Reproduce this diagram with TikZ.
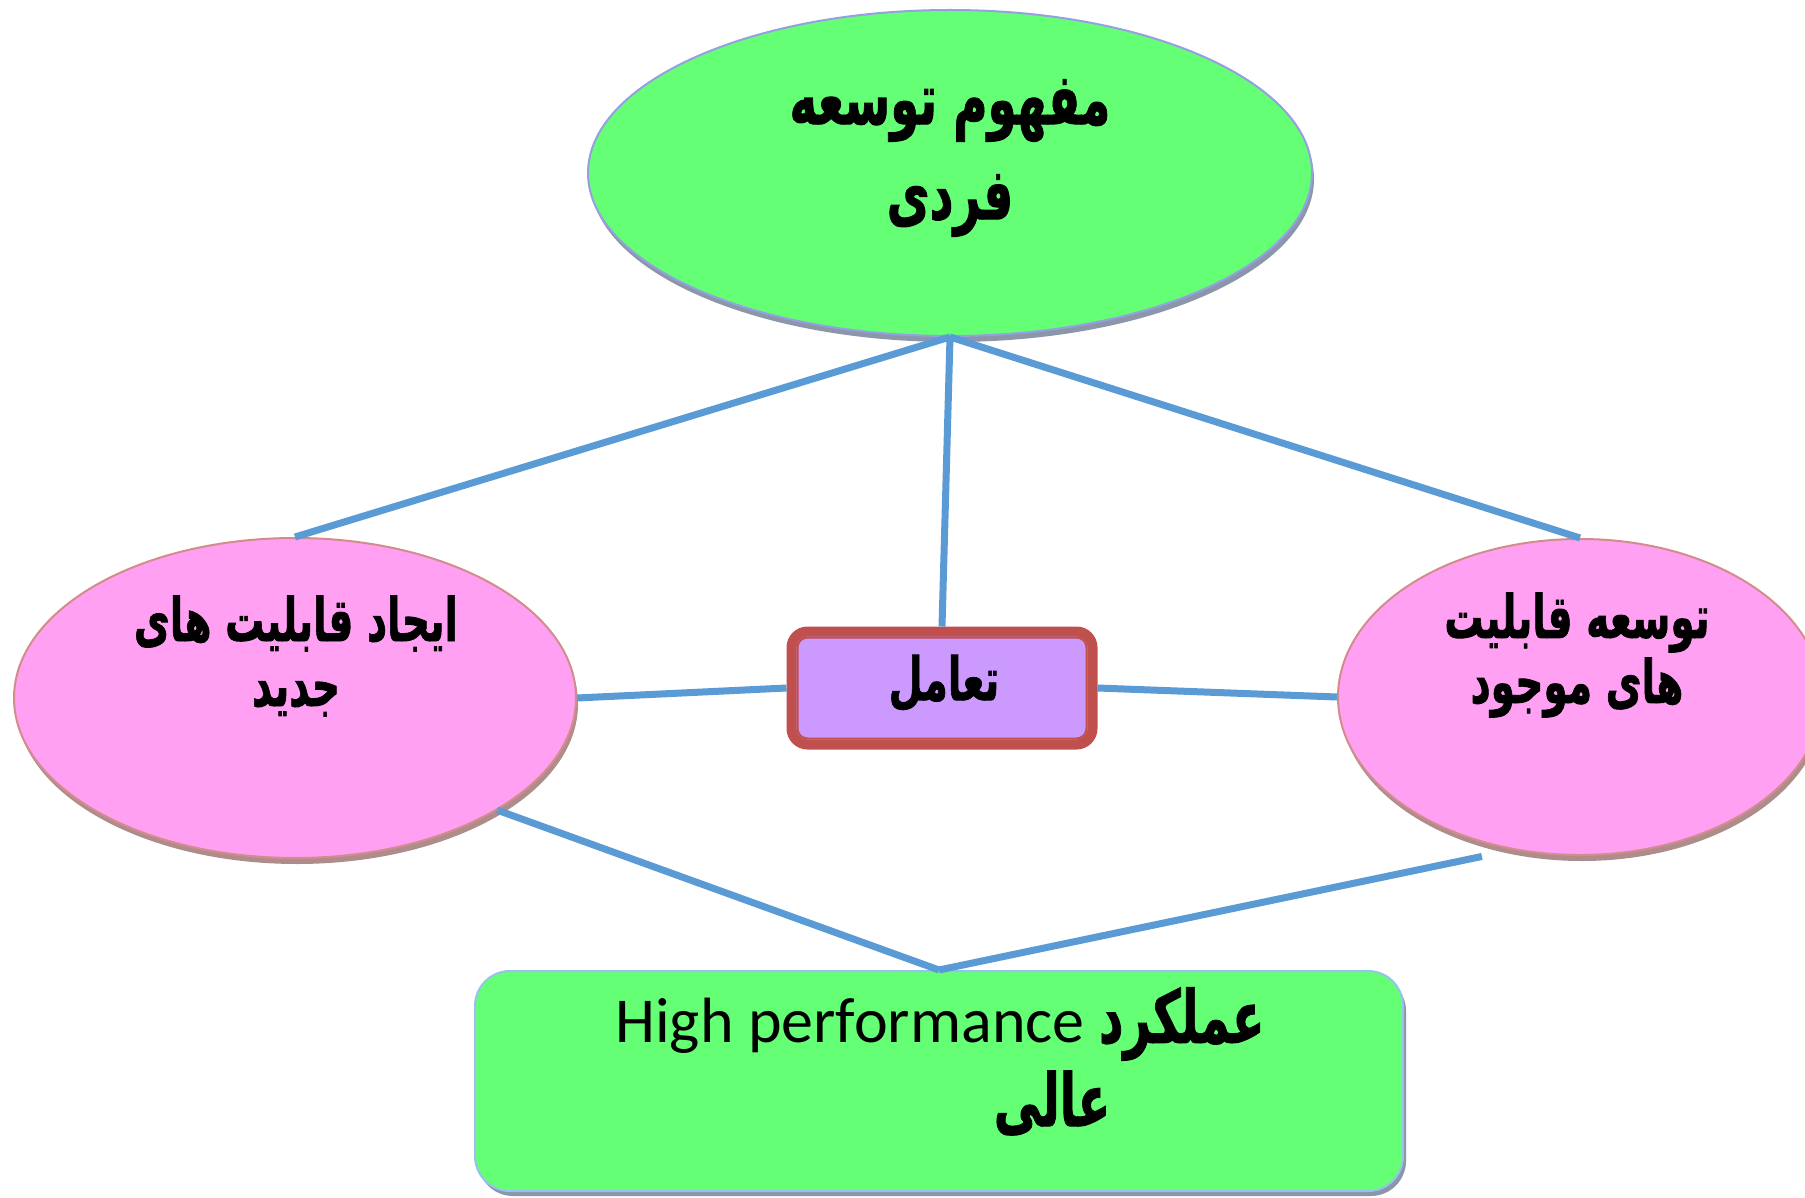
\documentclass[tikz,border=0pt]{standalone}
\usepackage{fontspec}
\usepackage{graphicx}
\usetikzlibrary{shapes.geometric,shadows}
\TeXXeTstate=1
\newfontfamily\arabicfont[Script=Arabic, BoldFeatures={FakeBold=1.5}]{DejaVu Sans}
\newfontfamily\latinfont{Carlito}
\newcommand{\arline}[1]{\scalebox{0.85}[1.3]{\beginR #1\endR}}
\definecolor{lgreen}{RGB}{100,255,117}
\definecolor{lpink}{RGB}{255,160,242}
\definecolor{lavender}{RGB}{204,153,255}
\definecolor{boxred}{RGB}{192,80,77}
\definecolor{lineblue}{RGB}{91,155,213}
\definecolor{greenedge}{RGB}{150,160,225}
\definecolor{pinkedge}{RGB}{210,140,140}
\definecolor{greenshadow}{RGB}{140,150,170}
\definecolor{pinkshadow}{RGB}{175,140,140}
\definecolor{boxedge}{RGB}{150,195,235}
\tikzset{
  conn/.style={draw=lineblue, line width=7pt},
  greenell/.style={ellipse, fill=lgreen, draw=greenedge, line width=2pt, inner sep=0pt,
    drop shadow={shadow xshift=2pt, shadow yshift=-6pt, fill=greenshadow, opacity=1}},
  pinkell/.style={ellipse, fill=lpink, draw=pinkedge, line width=2pt, inner sep=0pt,
    drop shadow={shadow xshift=2pt, shadow yshift=-6pt, fill=pinkshadow, opacity=1}},
  arbig/.style={align=center, font=\arabicfont\bfseries\fontsize{55}{95}\selectfont},
  armid/.style={align=center, font=\arabicfont\bfseries\fontsize{46}{65}\selectfont},
}
\begin{document}
\begin{tikzpicture}[x=1pt,y=-1pt]
\useasboundingbox (0,0) rectangle (1805,1198);
\fill[white] (0,0) rectangle (1805,1198);

% nodes
\node[greenell, minimum width=724pt, minimum height=326pt] (top) at (950,173) {};
\node[arbig] (toptext) at (950,158) {\arline{مفهوم توسعه}\\\arline{فردی}};

\node[pinkell, minimum width=562pt, minimum height=320pt] (left) at (295,698) {};
\node[armid] (lefttext) at (296,656) {\arline{ایجاد قابلیت های}\\\arline{جدید}};

\node[pinkell, minimum width=484pt, minimum height=316pt] (right) at (1580,697) {};
\node[armid] (righttext) at (1577,655) {\arline{توسعه قابلیت}\\\arline{های موجود}};

\node[draw=boxred, fill=lavender, line width=10pt, rounded corners=16pt,
      minimum width=301pt, minimum height=113pt, inner sep=0pt] (mid) at (942,688) {};
\draw[boxred, line width=2pt, rounded corners=10pt]
  ([xshift=11pt,yshift=-11pt]mid.north west) rectangle ([xshift=-11pt,yshift=11pt]mid.south east);
\node[armid] (midtext) at (944,683) {\arline{تعامل}};

\node[draw=boxedge, fill=lgreen, line width=2pt, rounded corners=35pt,
      minimum width=928pt, minimum height=220pt, inner sep=0pt,
      drop shadow={shadow xshift=3pt, shadow yshift=-5pt, fill=greenshadow, opacity=1}] (bot) at (939,1081) {};
\node[inner sep=0pt, font=\latinfont\fontsize{64}{70}\selectfont] (bottext) at (940,1024)
  {High performance {\arabicfont\bfseries\fontsize{56}{70}\selectfont\arline{عملکرد}}};
\node[inner sep=0pt, font=\arabicfont\bfseries\fontsize{56}{70}\selectfont] (bottext2) at (1052,1103) {\arline{عالی}};

% connectors
\draw[conn] (top.south) -- (left.north);
\draw[conn] (top.south) -- (mid.north);
\draw[conn] (top.south) -- (right.north);
\draw[conn] (left.east) -- (mid.west);
\draw[conn] (mid.east) -- (right.west);
\draw[conn] (left.-29) -- (bot.north);
\draw[conn] (bot.north) -- ([yshift=-14pt]right.-124);
\end{tikzpicture}
\end{document}
